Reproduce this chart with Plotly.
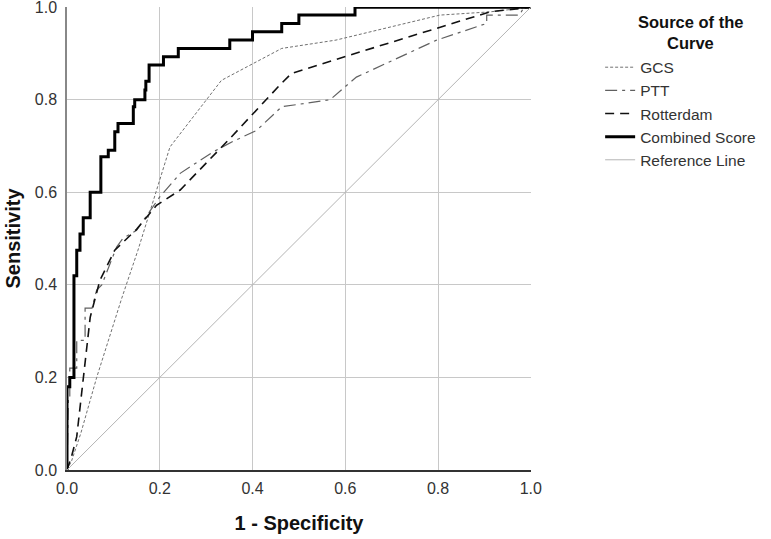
import plotly.graph_objects as go

# ---- data ----
series_names = ["GCS", "PTT", "Rotterdam", "Combined Score", "Reference Line"]
legend_title_lines = ["Source of the", "Curve"]
x_title = "1 - Specificity"
y_title = "Sensitivity"

gcs_fpr = [0, 0.01, 0.03, 0.064, 0.118, 0.153, 0.222, 0.333, 0.463, 0.58, 0.804, 0.912, 1.0]
gcs_tpr = [0, 0.02, 0.08, 0.20, 0.371, 0.475, 0.698, 0.842, 0.911, 0.929, 0.983, 0.99, 1.0]

ptt_fpr = [0, 0.003, 0.006, 0.006, 0.021, 0.021, 0.039, 0.039, 0.054, 0.064, 0.075, 0.107,
           0.12, 0.15, 0.2, 0.244, 0.316, 0.358, 0.409, 0.463, 0.567, 0.624, 0.797, 0.905,
           0.905, 0.976, 0.985, 1.0]
ptt_tpr = [0, 0.15, 0.15, 0.22, 0.22, 0.28, 0.28, 0.35, 0.35, 0.389, 0.40, 0.482,
           0.50, 0.518, 0.59, 0.641, 0.688, 0.71, 0.734, 0.785, 0.80, 0.849, 0.929, 0.965,
           0.983, 0.983, 1.0, 1.0]

rot_fpr = [0, 0.01, 0.021, 0.032, 0.05, 0.071, 0.103, 0.15, 0.193, 0.244, 0.351, 0.459,
           0.484, 0.621, 0.804, 0.912, 1.0]
rot_tpr = [0, 0.03, 0.072, 0.173, 0.33, 0.41, 0.475, 0.52, 0.572, 0.605, 0.716, 0.832,
           0.857, 0.90, 0.957, 0.99, 1.0]

# step curve: (x where the jump happens, y after the jump)
comb_fpr = [0, 0, 0.006, 0.015, 0.021, 0.028, 0.035, 0.05, 0.073, 0.089, 0.103, 0.11,
            0.143, 0.146, 0.168, 0.17, 0.177, 0.208, 0.24, 0.351, 0.40, 0.463, 0.50,
            0.621, 1.0]
comb_tpr = [0, 0.18, 0.20, 0.42, 0.475, 0.51, 0.545, 0.60, 0.677, 0.691, 0.731, 0.749,
            0.785, 0.80, 0.821, 0.84, 0.875, 0.893, 0.911, 0.929, 0.947, 0.965, 0.983,
            1.0, 1.0]

ref_fpr = [0, 1]
ref_tpr = [0, 1]

tick_vals = [0, 0.2, 0.4, 0.6, 0.8, 1.0]
tick_text = ["0.0", "0.2", "0.4", "0.6", "0.8", "1.0"]

FONT = "Arial, 'Liberation Sans', sans-serif"

fig = go.Figure()
fig.add_trace(go.Scatter(x=gcs_fpr, y=gcs_tpr, mode="lines", name=series_names[0],
                         line=dict(color="#707070", width=1, dash="3px,2px")))
fig.add_trace(go.Scatter(x=ptt_fpr, y=ptt_tpr, mode="lines", name=series_names[1],
                         line=dict(color="#606060", width=1.2, dash="12px,5px,3px,5px")))
fig.add_trace(go.Scatter(x=rot_fpr, y=rot_tpr, mode="lines", name=series_names[2],
                         line=dict(color="#111111", width=1.6, dash="9px,6px")))
fig.add_trace(go.Scatter(x=comb_fpr, y=comb_tpr, mode="lines", name=series_names[3],
                         line=dict(color="#000000", width=3, shape="hv")))
fig.add_trace(go.Scatter(x=ref_fpr, y=ref_tpr, mode="lines", name=series_names[4],
                         line=dict(color="#b4b4b4", width=1)))

axis_common = dict(
    range=[0, 1.0005], tickvals=tick_vals, ticktext=tick_text, showgrid=True,
    gridcolor="#c8c8c8", gridwidth=1, zeroline=False, showline=True, ticks="",
    tickfont=dict(family=FONT, size=16, color="#333333"), fixedrange=True,
    automargin=False, ticklabeloverflow="allow",
)

fig.update_xaxes(**axis_common, linecolor="#333333", linewidth=1.5,
                 title=dict(text="<b>" + x_title + "</b>", font=dict(family=FONT, size=20, color="#111111"),
                            standoff=20),
                 ticklabelstandoff=3)
fig.update_yaxes(**axis_common, linecolor="#888888", linewidth=1.5,
                 title=dict(text="<b>" + y_title + "</b>", font=dict(family=FONT, size=20, color="#111111"),
                            standoff=9),
                 ticklabelstandoff=5)

title_ys = [0.9676, 0.9222]
fig.update_layout(
    width=771, height=539,
    margin=dict(l=67, r=240, t=7, b=69),
    paper_bgcolor="white", plot_bgcolor="white",
    font=dict(family=FONT, color="#333333"),
    legend=dict(
        x=1.149, y=0.9058, xanchor="left", yanchor="top",
        font=dict(family=FONT, size=15.5, color="#333333"),
        itemwidth=30, bgcolor="rgba(0,0,0,0)",
    ),
    annotations=[dict(
        text="<b>" + line + "</b>", xref="paper", yref="paper",
        x=1.3427, y=yy, xanchor="center", yanchor="middle", showarrow=False,
        font=dict(family=FONT, size=16.5, color="#111111"),
    ) for line, yy in zip(legend_title_lines, title_ys)],
    showlegend=True,
)

fig.write_html("out.html", config={"displayModeBar": False},
               post_script="document.body.style.margin='0';")
